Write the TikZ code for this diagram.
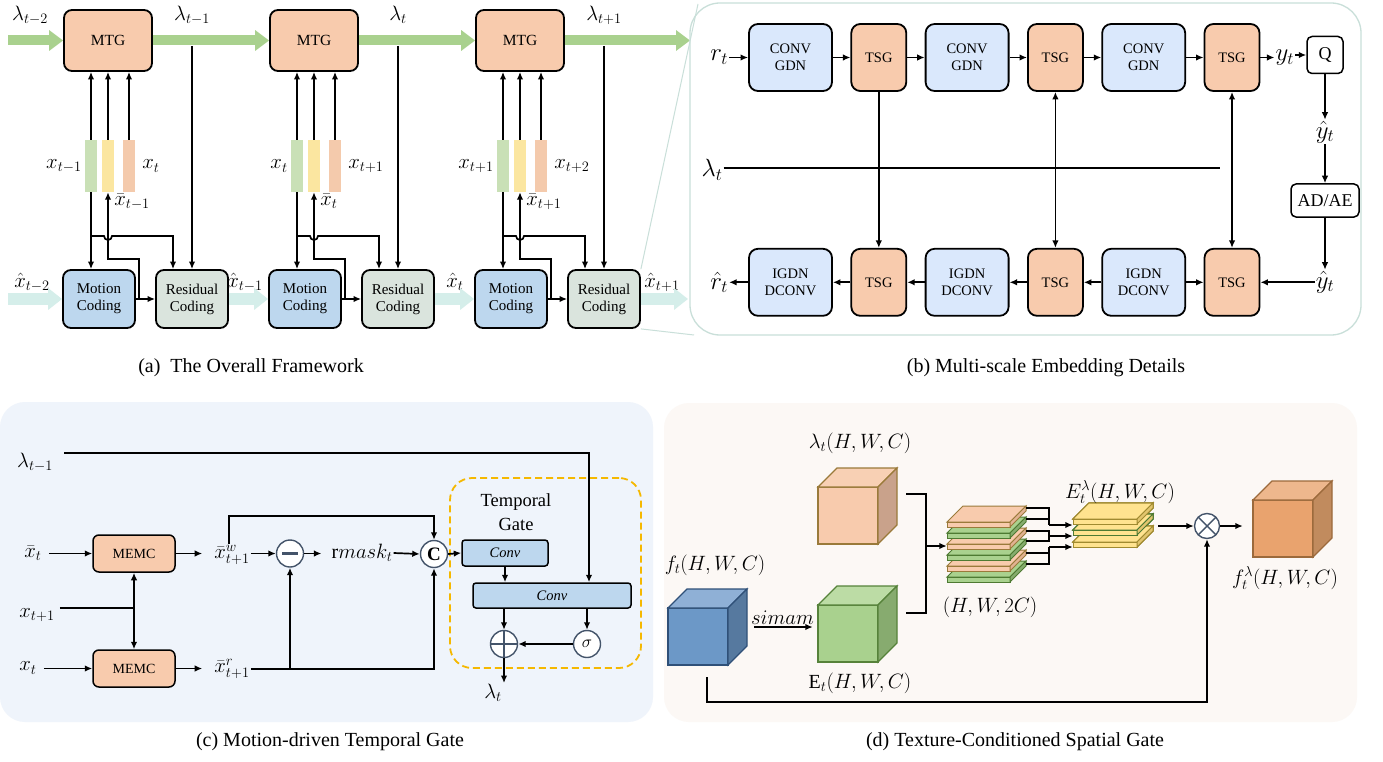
\documentclass[tikz,border=0pt]{standalone}
\usepackage{fontspec}
\setmainfont{Liberation Serif}
\usetikzlibrary{arrows.meta,positioning,calc}

\definecolor{mtgorange}{HTML}{F8CBAD}
\definecolor{motblue}{HTML}{BDD7EE}
\definecolor{resgray}{HTML}{DAE4DD}
\definecolor{lamgreen}{HTML}{A9D18E}
\definecolor{hatcyan}{HTML}{D5EEEA}
\definecolor{bargreen}{HTML}{C9E0B6}
\definecolor{baryellow}{HTML}{FBE6A0}
\definecolor{barorange}{HTML}{F4CAAC}
\definecolor{convblue}{HTML}{DAE8FC}
\definecolor{framegray}{HTML}{C9DFD9}
\definecolor{gatebg}{HTML}{EFF4FB}
\definecolor{gateyellow}{HTML}{F5B800}
\definecolor{opcol}{HTML}{44546A}
\definecolor{spatbg}{HTML}{FCF8F5}
% cube and slab colours
\definecolor{cbfront}{HTML}{6C98C7}\definecolor{cbtop}{HTML}{8FB0D6}\definecolor{cbside}{HTML}{56799F}\definecolor{cbedge}{HTML}{2F5078}
\definecolor{cgfront}{HTML}{A9D18E}\definecolor{cgtop}{HTML}{BCDCA5}\definecolor{cgside}{HTML}{87AB6F}\definecolor{cgedge}{HTML}{56823A}
\definecolor{cofront}{HTML}{F8CBAD}\definecolor{cotop}{HTML}{F8D0B4}\definecolor{coside}{HTML}{C9A28B}\definecolor{coedge}{HTML}{9A7A3A}
\definecolor{cffront}{HTML}{E9A36E}\definecolor{cftop}{HTML}{EEB78D}\definecolor{cfside}{HTML}{C18B5E}\definecolor{cfedge}{HTML}{9C6A3C}
\definecolor{sofill}{HTML}{F8CBAD}\definecolor{soside}{HTML}{E2B292}\definecolor{soedge}{HTML}{9A7A3A}
\definecolor{sgfill}{HTML}{A9D18E}\definecolor{sgside}{HTML}{86AD6E}\definecolor{sgedge}{HTML}{4E7A32}
\definecolor{syfill}{HTML}{FFE38F}\definecolor{syside}{HTML}{E2C56E}\definecolor{syedge}{HTML}{A08A30}
\definecolor{sygfill}{HTML}{FFE38F}\definecolor{sygside}{HTML}{E2C56E}\definecolor{sygedge}{HTML}{4E7A32}

\tikzset{
  lab/.style={inner sep=1pt, font=\fontsize{21}{23}\selectfont},
  blab/.style={lab, font=\fontsize{23}{25}\selectfont},
  clab/.style={lab, font=\fontsize{20}{22}\selectfont},
  captext/.style={inner sep=0pt, font=\fontsize{20}{24}\selectfont},
  arr/.style={-{Latex[length=7.5pt,width=6.5pt]}, line width=1.7pt},
  darr/.style={{Latex[length=7.5pt,width=6.5pt]}-{Latex[length=7.5pt,width=6.5pt]}, line width=1.7pt},
  blk/.style={draw, line width=1.8pt, rounded corners=8pt, align=center, inner sep=0pt},
  mtgbox/.style={blk, fill=mtgorange, minimum width=88pt, minimum height=61pt, font=\fontsize{15.5}{17}\selectfont},
  motbox/.style={blk, fill=motblue, minimum width=72pt, minimum height=58pt, font=\fontsize{15}{17}\selectfont},
  resbox/.style={motbox, fill=resgray},
  bar/.style={minimum width=12pt, minimum height=52pt, inner sep=0pt},
  garrow/.style={line width=10pt, draw=lamgreen, -{Triangle[length=14pt,width=20pt]}},
  carrow/.style={line width=12pt, draw=hatcyan, -{Triangle[length=14pt,width=21pt]}},
  convbox/.style={blk, fill=convblue, rounded corners=9pt, minimum width=83pt, minimum height=67pt, font=\fontsize{14.5}{16.5}\selectfont},
  tsgbox/.style={convbox, fill=mtgorange, minimum width=55pt},
  smallbox/.style={draw, line width=1.5pt, rounded corners=5pt, inner sep=0pt, fill=white, font=\fontsize{18}{20}\selectfont},
  memcbox/.style={blk, fill=mtgorange, line width=1.5pt, rounded corners=6pt, minimum width=82pt, minimum height=37pt, font=\fontsize{14}{16}\selectfont},
  convb/.style={draw, line width=1.5pt, fill=motblue, rounded corners=3pt, inner sep=0pt, font=\fontsize{14.5}{16}\selectfont\itshape},
  opc/.style={circle, draw=opcol, fill=white, line width=1.4pt, minimum size=27pt, inner sep=0pt, font=\fontsize{19}{21}\selectfont},
  plusop/.style={opc, path picture={\draw[opcol, line width=1.4pt] (path picture bounding box.north) -- (path picture bounding box.south) (path picture bounding box.west) -- (path picture bounding box.east);}},
  timesop/.style={opc, minimum size=25pt, path picture={\draw[opcol, line width=1.4pt] (path picture bounding box.north west) -- (path picture bounding box.south east) (path picture bounding box.south west) -- (path picture bounding box.north east);}},
  minusop/.style={opc, path picture={\draw[line width=2.2pt] ([xshift=-8pt]path picture bounding box.center) -- ([xshift=8pt]path picture bounding box.center);}},
  gatebox/.style={draw=gateyellow, dash pattern=on 7pt off 4pt, line width=1.8pt, rounded corners=22pt},
}

% cube: front top-left, colour prefix, name
\newcommand{\drawcube}[3]{%
  \begin{scope}[shift={#1}]
    \filldraw[fill=#2front, draw=#2edge, line width=1.2pt] (0,0) rectangle (60,57);
    \filldraw[fill=#2top, draw=#2edge, line width=1.2pt] (0,0) -- (19,-19) -- (79,-19) -- (60,0) -- cycle;
    \filldraw[fill=#2side, draw=#2edge, line width=1.2pt] (60,0) -- (79,-19) -- (79,38) -- (60,57) -- cycle;
    \node[inner sep=0pt, minimum width=79pt, minimum height=76pt] (#3) at (39.5,19) {};
  \end{scope}}
% slab: front top-left, width, colour prefix
\newcommand{\drawslab}[3]{%
  \begin{scope}[shift={#1}]
    \filldraw[fill=#3fill, draw=#3edge, line width=1pt] (0,0) -- (16,-16) -- (#2+16,-16) -- (#2,0) -- cycle;
    \filldraw[fill=#3fill, draw=#3edge, line width=1pt] (0,0) rectangle (#2,5);
    \filldraw[fill=#3side, draw=#3edge, line width=1pt] (#2,0) -- (#2+16,-16) -- (#2+16,-11) -- (#2,5) -- cycle;
  \end{scope}}

\begin{document}
\begin{tikzpicture}[x=1pt, y=-1pt]
  \useasboundingbox (0,0) rectangle (1383,762);
  \fill[white] (0,0) rectangle (1383,762);

  % (a) three coding stages
  \foreach \i/\lo/\xl/\xr/\xb/\xh/\hx in {0/t-1/t-1/t/t-1/t-2/32, 1/t/t/t+1/t/t-1/245, 2/t+1/t+1/t+2/t+1/t/455}{
    \pgfmathsetmacro{\off}{206*\i}
    \node[mtgbox] (mtg\i) at (108+\off,40.5) {MTG};
    \node[motbox] (mc\i) at (99+\off,299) {Motion\\Coding};
    \node[resbox] (rc\i) at (192+\off,299) {Residual\\Coding};
    \node[bar, fill=bargreen] (gb\i) at (91+\off,166) {};
    \node[bar, fill=baryellow] (yb\i) at (108+\off,166) {};
    \node[bar, fill=barorange] (ob\i) at (129+\off,166) {};
    \node[lab, left=2pt of gb\i] (xl\i) {$x_{\xl}$};
    \node[lab, right=6pt of ob\i] (xr\i) {$x_{\xr}$};
    \node[lab, anchor=north west] (xb\i) at ([xshift=-1pt]yb\i.south east) {$\bar{x}_{\xb}$};
    \node[lab] (lo\i) at (192+\off,15) {$\lambda_{\lo}$};
    \node[lab] (xh\i) at (\hx,282) {$\hat{x}_{\xh}$};
    % inputs of MTG
    \draw[arr] (gb\i.north) -- (gb\i.north |- mtg\i.south);
    \draw[arr] (yb\i.north) -- (yb\i.north |- mtg\i.south);
    \draw[arr] (ob\i.north) -- (ob\i.north |- mtg\i.south);
    \draw[arr] (gb\i.south) -- (gb\i.south |- mc\i.north);
    \coordinate (jn\i) at (91+\off,236);
    \draw[arr] (jn\i) -- ++(13,0) arc[start angle=180, end angle=360, radius=4pt] -| ([xshift=-19pt]rc\i.north);
    \coordinate (fb\i) at (139+\off,299);
    \draw[arr] (fb\i) -- ++(0,-40) -| (yb\i.south);
    \draw[arr] (mc\i.east) -- (rc\i.west);
    \coordinate (lam\i) at (192+\off,46);
    \draw[arr] (lam\i) -- (rc\i.north);
  }
  \node[lab] (lin lab) at (30,15) {$\lambda_{t-2}$};
  \node[lab] (xh3) at (662,282) {$\hat{x}_{t+1}$};

  % (a) lambda and frame streams
  \coordinate (lin) at (8,40.5);
  \coordinate (lout) at (690,40.5);
  \draw[garrow] (lin) -- (mtg0.west);
  \draw[garrow] (mtg0.east) -- (mtg1.west);
  \draw[garrow] (mtg1.east) -- (mtg2.west);
  \draw[garrow] (mtg2.east) -- (lout);
  \coordinate (hin) at (8,299);
  \coordinate (hout) at (688,299);
  \draw[carrow] (hin) -- (mc0.west);
  \draw[carrow] (rc0.east) -- (mc1.west);
  \draw[carrow] (rc1.east) -- (mc2.west);
  \draw[carrow] (rc2.east) -- (hout);
  \node[captext] (capa) at (251,368) {(a)\enspace The Overall Framework};

  % (b) frame and zoom lines
  \draw[framegray, line width=1.3pt, rounded corners=30pt] (690,3) rectangle (1361,335);
  \coordinate (fr1) at (698,4);
  \coordinate (fr2) at (694,335);
  \draw[framegray, line width=1pt] (rc2.north east) -- (fr1);
  \draw[framegray, line width=1pt] (rc2.south east) -- (fr2);

  % (b) encoder row
  \node[convbox] (c1) at (790.5,57.5) {CONV\\GDN};
  \node[tsgbox, right=17.5pt of c1] (t1) {TSG};
  \node[convbox, right=17.5pt of t1] (c2) {CONV\\GDN};
  \node[tsgbox, right=17.5pt of c2] (t2) {TSG};
  \node[convbox, right=17.5pt of t2] (c3) {CONV\\GDN};
  \node[tsgbox, right=17.5pt of c3] (t3) {TSG};
  % (b) decoder row
  \node[convbox, below=156pt of c1] (d1) {IGDN\\DCONV};
  \node[tsgbox, below=156pt of t1] (b1) {TSG};
  \node[convbox, below=156pt of c2] (d2) {IGDN\\DCONV};
  \node[tsgbox, below=156pt of t2] (b2) {TSG};
  \node[convbox, below=156pt of c3] (d3) {IGDN\\DCONV};
  \node[tsgbox, below=156pt of t3] (b3) {TSG};
  \node[blab, left=19pt of c1] (rt) {$r_t$};
  \node[blab, left=19pt of d1] (rh) {$\hat{r}_t$};
  \node[blab, right=14pt of t3] (yt) {$y_t$};
  \node[smallbox, minimum width=36pt, minimum height=37pt] (q) at (1325,55) {Q};
  \node[blab] (yh1) at (1325,132) {$\hat{y}_t$};
  \node[smallbox, minimum width=68pt, minimum height=33pt] (ad) at (1325,200.5) {AD/AE};
  \node[blab] (yh2) at (1325,282) {$\hat{y}_t$};
  \node[blab] (lt) at (712,170) {$\lambda_t$};
  \coordinate (lend) at (1219.5,168);

  \draw[arr] (c1.west -| rt.east) -- (c1.west);
  \foreach \a/\b in {c1/t1, t1/c2, c2/t2, t2/c3, c3/t3}
    \draw[arr] (\a) -- (\b);
  \draw[arr] (t3.east) -- (t3.east -| yt.west);
  \draw[arr] (q.west -| yt.east) -- (q.west);
  \draw[arr] (q) -- (yh1);
  \draw[arr] (yh1) -- (ad);
  \draw[arr] (ad) -- (yh2);
  \draw[arr] (b3.east -| yh2.west) -- (b3.east);
  \foreach \a/\b in {d3/b3, d3/b2, b2/d2, d2/b1, b1/d1}
    \draw[arr] (\a) -- (\b);
  \draw[arr] (d1.west) -- (d1.west -| rh.east);
  \draw[line width=1.7pt] (lt.east |- lend) -- (lend);
  \draw[arr] (t1) -- (b1);
  \draw[darr] (t2) -- (b2);
  \draw[darr] (t3) -- (b3);
  \node[captext] (capb) at (1046,368) {(b) Multi-scale Embedding Details};

  % (c) Motion-driven Temporal Gate
  \fill[gatebg, rounded corners=25pt] (0,402) rectangle (653,722);
  \node[memcbox] (m1) at (134,553.5) {MEMC};
  \node[memcbox] (m2) at (134,668.5) {MEMC};
  \node[clab] (cl1) at (35,462) {$\lambda_{t-1}$};
  \node[clab] (cxb) at (33,553) {$\bar{x}_t$};
  \node[clab] (cx1) at (37,615) {$x_{t+1}$};
  \node[clab] (cx) at (28,668) {$x_t$};
  \node[clab] (xw) at (232,555) {$\bar{x}^{w}_{t+1}$};
  \node[clab] (xr) at (232,669) {$\bar{x}^{r}_{t+1}$};
  \node[minusop] (sub) at (290,553.5) {};
  \node[clab] (rm) at (362,553) {$\mathrm{r}mask_t$};
  \node[opc] (cat) at (434,554) {$\mathbf{C}$};
  \node[gatebox, minimum width=191pt, minimum height=190pt] (gate) at (545.5,573) {};
  \node[align=center, inner sep=0pt, font=\fontsize{18.5}{24}\selectfont] (tg) at (516,512) {Temporal\\Gate};
  \node[convb, minimum width=86pt, minimum height=26pt] (cv1) at (505,553) {Conv};
  \node[convb, minimum width=158pt, minimum height=25pt] (cv2) at (552,595.5) {Conv};
  \node[plusop] (add) at (504,644) {};
  \node[opc] (sig) at (587,644) {$\sigma$};
  \node[clab] (clt) at (493,693) {$\lambda_t$};

  \coordinate (lc) at (64,453);
  \draw[arr] (lc) -| ([xshift=37pt]cv2.north);
  \draw[arr, shorten <=6pt] (m1.west -| cxb.east) -- (m1.west);
  \draw[arr, shorten <=6pt] (m2.west -| cx.east) -- (m2.west);
  \coordinate (sp) at (134,608);
  \draw[line width=1.7pt, shorten <=4pt] (sp -| cx1.east) -- (sp);
  \draw[arr] (sp) -- (m1.south);
  \draw[arr] (sp) -- (m2.north);
  \draw[arr, shorten >=11pt] (m1.east) -- (m1.east -| xw.west);
  \draw[arr, shorten >=11pt] (m2.east) -- (m2.east -| xr.west);
  \draw[arr] (sub.west -| xw.east) -- (sub.west);
  \draw[arr, shorten >=9pt] (sub.east) -- (sub.east -| rm.west);
  \draw[arr] (rm.east) -- (cat.west);
  \draw[arr] (cat.east) -- (cv1.west);
  \draw[arr] (xr.east) -| (cat.south);
  \draw[arr] (sub.south |- xr.east) -- (sub.south);
  \draw[arr] ([xshift=-3pt]xw.north) -- ++(0,-28) -| (cat.north);
  \draw[arr] (cv1) -- (cv1 |- cv2.north);
  \draw[arr] (add.north |- cv2.south) -- (add.north);
  \draw[arr] (sig.north |- cv2.south) -- (sig.north);
  \draw[arr] (sig) -- (add);
  \draw[arr] (add.south) -- (add.south |- clt.north);
  \node[captext] (capc) at (330,742) {(c) Motion-driven Temporal Gate};

  % (d) Texture-Conditioned Spatial Gate
  \fill[spatbg, rounded corners=25pt] (664,403) rectangle (1357,722);
  \drawcube{(668,608)}{cb}{ft}
  \drawcube{(818,605)}{cg}{et}
  \drawcube{(818,487)}{co}{lcube}
  \drawcube{(1253,500)}{cf}{fl}
  \foreach \yy/\slc in {577/sg, 566/so, 555/sg, 544/so, 533/sg, 522/so}
    \drawslab{(947,\yy)}{63}{\slc}
  \foreach \yy/\slc in {542/sy, 530/syg, 519/sy}
    \drawslab{(1073,\yy)}{64}{\slc}
  \node[inner sep=0pt, minimum width=79pt, minimum height=77pt] (stk) at (986.5,544.5) {};
  \node[inner sep=0pt, minimum width=80pt, minimum height=44pt] (ys) at (1113,525) {};
  \node[timesop] (mul) at (1207,526) {};

  \node[clab] (lft) at (715,565) {$f_t(H,W,C)$};
  \node[clab] (let) at (860,683) {$\mathrm{E}_t(H,W,C)$};
  \node[clab] (llc) at (860,443) {$\lambda_t(H,W,C)$};
  \node[clab] (lstk) at (990,607) {$(H,W,2C)$};
  \node[clab] (lys) at (1120,492) {$E_t^{\lambda}(H,W,C)$};
  \node[clab] (lfl) at (1285,578) {$f_t^{\lambda}(H,W,C)$};

  \draw[arr, shorten <=7pt, shorten >=5pt] (ft.east) -- node[clab, above=1pt] (sim) {$simam$} (ft.east -| et.west);
  \coordinate (lcout) at (906,494);
  \coordinate (etout) at (906,613);
  \coordinate (bk) at (926,546);
  \draw[line width=1.7pt] (lcout) -| (bk);
  \draw[line width=1.7pt] (etout) -| (bk);
  \draw[arr] (bk) -- (stk.west |- bk);
  \foreach \ya/\yb/\yc in {508/519/525, 531/541/536, 553/564/547}{
    \draw[line width=1.7pt] (stk.east |- 0,\ya) -| (1049,\yc);
    \draw[line width=1.7pt] (stk.east |- 0,\yb) -| (1049,\yc);
    \draw[arr] (1049,\yc) -- (ys.west |- 0,\yc);
  }
  \draw[arr, shorten <=5pt] (mul.west -| ys.east) -- (mul.west);
  \draw[arr, shorten >=10pt] (mul.east) -- (mul.east -| fl.west);
  \coordinate (fbot) at (707,677);
  \draw[arr] (fbot) -- ++(0,25) -| (mul.south);
  \node[captext] (capd) at (1015,742) {(d) Texture-Conditioned Spatial Gate};
\end{tikzpicture}
\end{document}
